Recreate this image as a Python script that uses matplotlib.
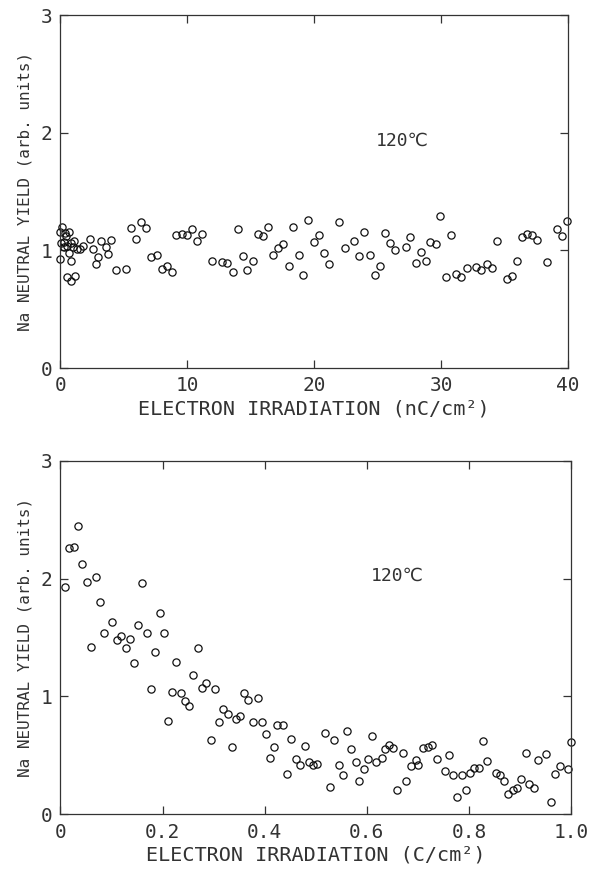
import matplotlib
matplotlib.use("Agg")
import matplotlib.pyplot as plt

# ---- Top panel data (nC/cm^2 vs yield) ----
top_x = [0.0, 0.15, 0.35, 0.65, 0.05, 0.25, 0.45, 0.85, 1.1, 0.7, 0.0, 0.8, 0.55, 0.8, 1.15,
         1.3, 0.3, 0.5, 1.0,
         1.54, 1.75, 2.32, 2.58, 2.98, 2.8, 3.17, 3.59, 3.77, 3.96, 4.37, 5.16, 5.53, 5.95,
         6.34, 6.74, 7.13, 7.58, 7.97, 8.37, 8.76, 9.1, 9.55, 9.94, 10.34, 10.73, 11.15,
         11.96, 12.75, 13.14, 13.57, 13.96, 14.36, 14.72,
         15.19, 15.54, 15.93, 16.38, 16.77, 17.16, 17.56, 18.0, 18.35, 18.79, 19.13, 19.53,
         19.98, 20.37, 20.79, 21.16, 21.95, 22.42, 23.15, 23.55, 23.94, 24.39, 24.78, 25.18,
         25.57, 25.97, 26.36, 27.2, 27.54, 27.99, 28.41, 28.8, 29.12, 29.57, 29.9,
         30.38, 30.75, 31.17, 31.56, 32.01, 32.74, 33.14, 33.59, 33.98, 34.37, 35.16, 35.56,
         35.95, 36.34, 36.74, 37.13, 37.53, 38.36, 39.1, 39.54, 39.94]
top_y = [1.16, 1.20, 1.15, 1.16, 1.06, 1.03, 1.12, 1.06, 1.08, 0.98, 0.93, 0.91, 0.77, 0.74, 0.78,
         1.01, 1.07, 1.04, 1.03,
         1.01, 1.04, 1.10, 1.01, 0.94, 0.88, 1.08, 1.03, 0.97, 1.09, 0.83, 0.84, 1.19, 1.10,
         1.24, 1.19, 0.94, 0.96, 0.84, 0.87, 0.82, 1.13, 1.14, 1.13, 1.18, 1.08, 1.14,
         0.91, 0.90, 0.89, 0.82, 1.18, 0.95, 0.83,
         0.91, 1.14, 1.12, 1.20, 0.96, 1.02, 1.05, 0.87, 1.20, 0.96, 0.79, 1.26,
         1.07, 1.13, 0.98, 0.88, 1.24, 1.02, 1.08, 0.95, 1.16, 0.96, 0.79, 0.87,
         1.15, 1.06, 1.00, 1.03, 1.11, 0.89, 0.99, 0.91, 1.07, 1.05, 1.29,
         0.77, 1.13, 0.80, 0.77, 0.85, 0.86, 0.83, 0.88, 0.85, 1.08, 0.76, 0.78,
         0.91, 1.11, 1.14, 1.13, 1.09, 0.90, 1.18, 1.12, 1.25]

# ---- Bottom panel data (C/cm^2 vs yield) ----
bot_x = [0.009, 0.017, 0.026, 0.035, 0.043, 0.051, 0.069, 0.06, 0.077, 0.085, 0.101, 0.11,
         0.118, 0.128, 0.136, 0.144, 0.151, 0.16, 0.169, 0.177, 0.185, 0.194, 0.202, 0.21,
         0.218, 0.226, 0.236, 0.244, 0.252, 0.26, 0.269, 0.277, 0.285, 0.294, 0.303, 0.31,
         0.319, 0.328, 0.335, 0.344, 0.352, 0.36, 0.368,
         0.386, 0.377, 0.394, 0.403, 0.411, 0.419, 0.425, 0.435, 0.444, 0.452, 0.461, 0.469,
         0.478, 0.487, 0.495, 0.503, 0.519, 0.527, 0.536, 0.545, 0.553, 0.561, 0.57, 0.578,
         0.585, 0.595, 0.603, 0.611, 0.619, 0.629, 0.636, 0.644, 0.652, 0.66, 0.67, 0.677,
         0.687, 0.696, 0.701,
         0.711, 0.719, 0.728, 0.737, 0.753, 0.762, 0.768, 0.777, 0.786, 0.794, 0.802, 0.811,
         0.82, 0.828, 0.836, 0.853, 0.86, 0.869, 0.876, 0.886, 0.894, 0.903, 0.911, 0.918,
         0.927, 0.936, 0.952, 0.961, 0.969, 0.978, 0.995, 1.0]
bot_y = [1.93, 2.26, 2.27, 2.45, 2.12, 1.97, 2.01, 1.42, 1.80, 1.54, 1.63, 1.48,
         1.51, 1.41, 1.49, 1.28, 1.61, 1.96, 1.54, 1.06, 1.38, 1.71, 1.54, 0.79,
         1.04, 1.29, 1.03, 0.96, 0.92, 1.18, 1.41, 1.07, 1.11, 0.63, 1.06, 0.78,
         0.89, 0.85, 0.57, 0.81, 0.83, 1.03, 0.97,
         0.99, 0.78, 0.78, 0.68, 0.48, 0.57, 0.76, 0.76, 0.34, 0.64, 0.47, 0.42,
         0.58, 0.44, 0.42, 0.43, 0.69, 0.23, 0.63, 0.42, 0.33, 0.71, 0.55, 0.44,
         0.28, 0.38, 0.47, 0.66, 0.44, 0.48, 0.55, 0.59, 0.56, 0.21, 0.52, 0.28,
         0.41, 0.46, 0.42,
         0.56, 0.57, 0.59, 0.47, 0.37, 0.50, 0.33, 0.15, 0.33, 0.21, 0.35, 0.39,
         0.39, 0.62, 0.45, 0.35, 0.33, 0.28, 0.17, 0.21, 0.22, 0.30, 0.52, 0.26,
         0.22, 0.46, 0.51, 0.10, 0.34, 0.41, 0.38, 0.61]

top_xticks = [0, 10, 20, 30, 40]
top_xticklabels = ["0", "10", "20", "30", "40"]
bot_xticks = [0, 0.2, 0.4, 0.6, 0.8, 1.0]
bot_xticklabels = ["0", "0.2", "0.4", "0.6", "0.8", "1.0"]
yticks = [0, 1, 2, 3]
yticklabels = ["0", "1", "2", "3"]

top_xlabel = "ELECTRON IRRADIATION (nC/cm²)"
bot_xlabel = "ELECTRON IRRADIATION (C/cm²)"
ylabel = "Na NEUTRAL YIELD (arb. units)"
temp_label = "120℃"

FONT = ["DejaVu Sans Mono", "DejaVu Sans", "Noto Sans CJK SC"]
plt.rcParams["font.family"] = FONT
TXT = "#333333"

fig = plt.figure(figsize=(5.89, 8.69), dpi=100)
ax1 = fig.add_axes([0.1027, 0.5765, 0.8616, 0.4062])
ax2 = fig.add_axes([0.1027, 0.0630, 0.8667, 0.4068])

def style(ax, xticks, xticklabels, xlim, xlabel):
    ax.set_xlim(*xlim)
    ax.set_ylim(0, 3)
    ax.set_xticks(xticks)
    ax.set_xticklabels(xticklabels)
    ax.set_yticks(yticks)
    ax.set_yticklabels(yticklabels)
    ax.tick_params(direction="in", length=6, width=0.9, top=True, right=True,
                   labelsize=14, colors=TXT, pad=6)
    for s in ax.spines.values():
        s.set_linewidth(0.9)
        s.set_color("#333333")
    ax.set_xlabel(xlabel, fontsize=14.5, color=TXT, labelpad=3)
    ax.set_ylabel(ylabel, fontsize=11.5, color=TXT, labelpad=6)

ax1.plot(top_x, top_y, linestyle="none", marker="o", markersize=5.2,
         markerfacecolor="none", markeredgecolor="#111111", markeredgewidth=0.9,
         clip_on=False)
style(ax1, top_xticks, top_xticklabels, (0, 40), top_xlabel)
ax1.text(26.9, 1.93, temp_label, fontsize=13, ha="center", va="center", color=TXT)

ax2.plot(bot_x, bot_y, linestyle="none", marker="o", markersize=5.2,
         markerfacecolor="none", markeredgecolor="#111111", markeredgewidth=0.9,
         clip_on=False)
style(ax2, bot_xticks, bot_xticklabels, (0, 1.0), bot_xlabel)
ax2.text(0.66, 2.02, temp_label, fontsize=13, ha="center", va="center", color=TXT)

fig.savefig("out.png", dpi=100, facecolor="white")
